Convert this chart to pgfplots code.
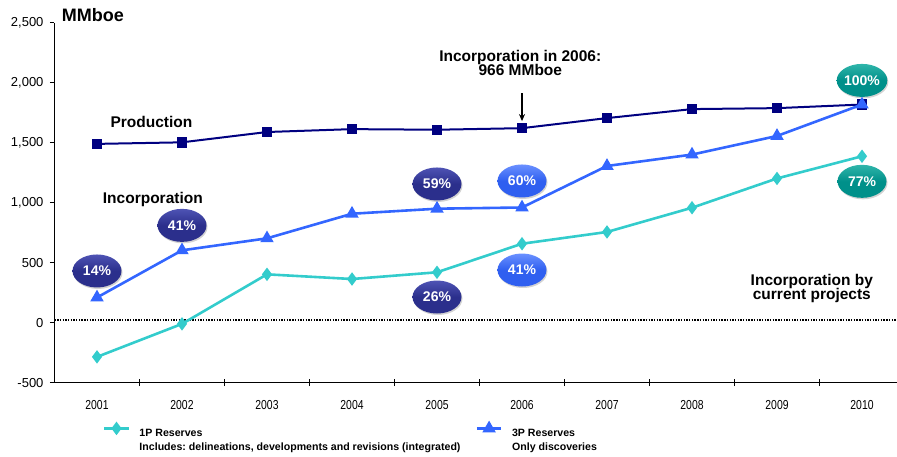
\documentclass[border=0pt]{standalone}
\usepackage{fontspec}
\setmainfont{Liberation Sans}
\newfontfamily\narrowfont[FakeStretch=0.8]{Liberation Sans}
\usepackage{pgfplots}
\pgfplotsset{compat=1.18}
\usetikzlibrary{shapes.geometric,shadows,arrows.meta}

\definecolor{prodnavy}{HTML}{000080}
\definecolor{threep}{HTML}{3366FF}
\definecolor{onep}{HTML}{33CCCC}
\definecolor{pilldark}{HTML}{2B2F8C}
\definecolor{pilldarktop}{HTML}{4E53B4}
\definecolor{pillblue}{HTML}{2F5FF0}
\definecolor{pillbluetop}{HTML}{6A90FF}
\definecolor{pillteal}{HTML}{00908A}
\definecolor{pilltealtop}{HTML}{2FB5AA}

\tikzset{
  pill/.style={ellipse, minimum width=49pt, minimum height=33pt, inner sep=0pt,
    text=white, font=\fontsize{14}{16}\selectfont\bfseries,
    drop shadow={shadow xshift=1pt, shadow yshift=-1.5pt, opacity=0.35}},
  darkpill/.style={pill, top color=pilldarktop, bottom color=pilldark, middle color=pilldark},
  bluepill/.style={pill, top color=pillbluetop, bottom color=pillblue, middle color=pillblue},
  tealpill/.style={pill, top color=pilltealtop, bottom color=pillteal, middle color=pillteal},
  note/.style={inner sep=0pt, font=\fontsize{15.5}{17}\selectfont\bfseries},
}

\begin{document}
\frenchspacing
\begin{tikzpicture}
\useasboundingbox (0pt,0pt) rectangle (897pt,457pt);
\begin{axis}[
  at={(54.5pt,74.3pt)}, anchor=south west,
  scale only axis, width=842.35pt, height=360pt,
  xmin=0.5, xmax=10.41, ymin=-500, ymax=2500,
  axis x line=bottom, axis y line=left,
  axis line style={-, line width=1.1pt, black},
  xtick={1,2,3,4,5,6,7,8,9,10},
  xticklabels={2001,2002,2003,2004,2005,2006,2007,2008,2009,2010},
  major x tick style={draw=none},
  minor xtick={1.5,2.5,3.5,4.5,5.5,6.5,7.5,8.5,9.5},
  ytick={-500,0,500,1000,1500,2000,2500},
  yticklabels={-500,0,500,{1,000},{1,500},{2,000},{2,500}},
  tick align=outside, major tick length=4.5pt, minor tick length=7pt,
  tick style={black, line width=0.9pt},
  minor x tick style={yshift=3.5pt},
  y tick label style={font=\fontsize{13}{15}\selectfont, xshift=-3pt},
  x tick label style={font=\narrowfont\fontsize{13}{15}\selectfont, yshift=-10pt},
  clip=false,
  legend columns=2,
  legend style={at={(0.0572,-0.112)}, anchor=north west, draw=none, fill=none,
    inner sep=0pt, font=\fontsize{10.6}{14.3}\selectfont\bfseries,
    nodes={align=left, inner sep=0pt},
    /tikz/every odd column/.append style={column sep=9.4pt},
    /tikz/every even column/.append style={column sep=15pt}},
  legend cell align=left,
  legend image code/.code={\draw[mark repeat=2,mark phase=2,#1]
    plot coordinates {(0pt,12pt)(12.3pt,12pt)(24.6pt,12pt)};},
]
% zero reference line
\draw[line width=1.4pt, dash pattern=on 1.4pt off 1.3pt] (axis cs:0.5,22) -- (axis cs:10.41,22);

% production
\addplot[prodnavy, line width=2pt, mark=square*, mark size=4.2pt, forget plot]
  coordinates {(1,1490)(2,1503)(3,1589)(4,1613)(5,1608)(6,1621)(7,1705)(8,1780)(9,1788)(10,1818)};

% 1P reserves
\addplot[onep, line width=2.6pt, mark=diamond*, mark size=4.6pt]
  coordinates {(1,-285)(2,-10)(3,403)(4,364)(5,420)(6,658)(7,756)(8,958)(9,1202)(10,1387)};
\addlegendentry{1P Reserves\\Includes: delineations, developments and revisions (integrated)}

% 3P reserves
\addplot[threep, line width=2.6pt, mark=triangle*, mark size=5.2pt]
  coordinates {(1,210)(2,603)(3,703)(4,908)(5,950)(6,960)(7,1306)(8,1401)(9,1556)(10,1818)};
\addlegendentry{3P Reserves\\Only discoveries}

% percentage badges
\node[darkpill] at (axis cs:1,431) {14\%};
\node[darkpill] at (axis cs:2,811) {41\%};
\node[darkpill] at (axis cs:5,1156) {59\%};
\node[darkpill] at (axis cs:5,214) {26\%};
\node[bluepill] at (axis cs:6,1181) {60\%};
\node[bluepill] at (axis cs:6,439) {41\%};
\node[tealpill] at (axis cs:10,2019) {100\%};
\node[tealpill] at (axis cs:10,1178) {77\%};

% annotations
\node[note, anchor=base west, font=\fontsize{18}{20}\selectfont\bfseries] at (axis cs:0.585,2508) {MMboe};
\node[note, anchor=base] at (axis cs:1.641,1628) {Production};
\node[note, anchor=base] at (axis cs:1.657,995) {Incorporation};
\node[note, anchor=base] at (axis cs:5.98,2175) {Incorporation in 2006:};
\node[note, anchor=base] at (axis cs:5.98,2056) {966 MMboe};
\node[note, anchor=base] at (axis cs:9.41,314) {Incorporation by};
\node[note, anchor=base] at (axis cs:9.41,197) {current projects};
\draw[-{Stealth[length=7pt,width=6pt]}, line width=1.3pt] (axis cs:6,1912) -- (axis cs:6,1680);
\end{axis}
\end{tikzpicture}
\end{document}
